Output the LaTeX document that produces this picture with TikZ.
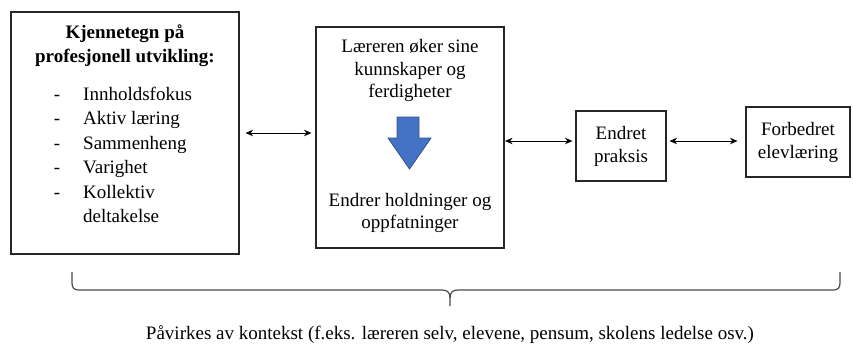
\documentclass[tikz,border=0pt]{standalone}
\usepackage{fontspec}
\setmainfont{Liberation Serif}
\newfontfamily\tnr{Liberation Serif}
\usetikzlibrary{arrows.meta,calc}
\begin{document}
\begin{tikzpicture}[x=1pt,y=-1pt,
  box/.style={draw=black!85, line width=1.1pt, inner sep=0pt},
  txt/.style={anchor=base, inner sep=0pt, font=\tnr\fontsize{19}{23}\selectfont},
  btxt/.style={txt, font=\tnr\fontsize{19}{23}\selectfont\bfseries},
  lnk/.style={{Stealth[length=7.5pt,width=6.5pt]}-{Stealth[length=7.5pt,width=6.5pt]}, line width=0.9pt, black},
  bluearrow/.style={fill={rgb,255:red,68;green,114;blue,196}, draw={rgb,255:red,47;green,82;blue,143}, line width=0.8pt},
  bracestyle/.style={draw=black!70, line width=1.2pt}]
\useasboundingbox (0,0) rectangle (853,343);
% left box
\node[box, minimum width=228pt, minimum height=242pt] (L) at (125,133) {};
\node[btxt] (Lt1) at (125,38) {Kjennetegn på};
\node[btxt] (Lt2) at (125,62) {profesjonell utvikling:};
\foreach \i/\t [count=\k] in {100/Innholdsfokus,124.5/Aktiv læring,149/Sammenheng,173.5/Varighet,198/Kollektiv} {
  \node[txt] (Ld\k) at (57,\i) {-};
  \node[txt, anchor=base west] (Li\k) at (83,\i) {\t};
}
\node[txt, anchor=base west] (Li6) at (83,222.5) {deltakelse};
% middle box
\node[box, minimum width=188pt, minimum height=221pt] (M) at (410,137.5) {};
\node[txt] (M1) at (410,52) {Læreren øker sine};
\node[txt] (M2) at (410,75) {kunnskaper og};
\node[txt] (M3) at (410,97) {ferdigheter};
\node[txt] (M4) at (410,206) {Endrer holdninger og};
\node[txt] (M5) at (410,228) {oppfatninger};
\path[bluearrow] (397,117) -- (419,117) -- (419,138) -- (431,138) -- (409.5,169) -- (388,138) -- (397,138) -- cycle;
% right boxes
\node[box, minimum width=90pt, minimum height=70pt, align=center, font=\tnr\fontsize{19}{23}\selectfont] (E) at (621,146) {Endret\\praksis};
\node[box, minimum width=104pt, minimum height=70pt, align=center, font=\tnr\fontsize{19}{23}\selectfont] (F) at (798,142) {Forbedret\\elevlæring};
% connectors
\draw[lnk, shorten <=6pt, shorten >=4pt] (L.east) -- (L.east -| M.west);
\draw[lnk, shorten <=0.5pt, shorten >=3pt] ([yshift=5pt]E.west -| M.east) -- ([yshift=5pt]E.west);
\draw[lnk, shorten <=3pt, shorten >=8pt] ([yshift=5pt]E.east) -- ([yshift=5pt]E.east -| F.west);
% brace
\draw[bracestyle] (72,272) -- (72,283) .. controls (72,288) and (74,290) .. (79,290) -- (442,290)
  .. controls (447,290) and (450,292) .. (450,298) -- (450,306);
\draw[bracestyle] (840,272) -- (840,283) .. controls (840,288) and (838,290) .. (833,290) -- (458,290)
  .. controls (453,290) and (450,292) .. (450,298);
\node[txt, font=\tnr\fontsize{19}{23}\selectfont] (C) at (450,339) {Påvirkes av kontekst (f.eks. læreren selv, elevene, pensum, skolens ledelse osv.)};
\end{tikzpicture}
\end{document}
